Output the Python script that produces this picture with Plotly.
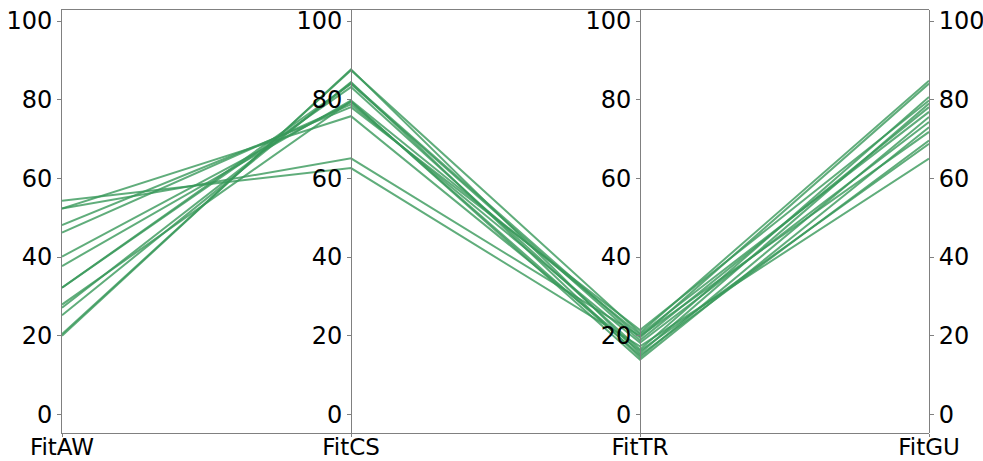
import plotly.graph_objects as go

categories = ["FitAW", "FitCS", "FitTR", "FitGU"]
fit_aw = [54.3, 52.3, 52.3, 48.1, 46.2, 40.1, 37.7, 32.2, 32.2, 27.9, 27.1, 25.2, 20.4, 20.0]
fit_cs = [62.6, 65.1, 75.8, 78.1, 78.8, 79.4, 79.8, 83.2, 84.0, 79.6, 84.2, 84.5, 87.5, 87.7]
fit_tr = [17.3, 19.9, 16.1, 21.4, 18.2, 15.0, 20.3, 16.5, 18.8, 13.9, 19.5, 14.5, 20.7, 15.5]
fit_gu = [65.0, 71.8, 68.8, 79.8, 74.3, 69.6, 76.9, 80.7, 78.1, 73.0, 84.1, 75.6, 84.8, 79.0]
y_ticks = [0, 20, 40, 60, 80, 100]

line_color = "rgba(56,152,90,0.8)"
axis_color = "#808080"
font = dict(family="DejaVu Sans", size=24, color="black")
xfont = dict(family="DejaVu Sans", size=23, color="black")
y_range = [-4.75, 102.8]

fig = go.Figure()
for a, c, t, g in zip(fit_aw, fit_cs, fit_tr, fit_gu):
    fig.add_trace(go.Scatter(
        x=categories, y=[a, c, t, g], mode="lines",
        line=dict(color=line_color, width=2), showlegend=False, hoverinfo="skip",
    ))

dom = [0.0, 1.0]
common_y = dict(range=y_range, tickvals=y_ticks, showgrid=False, zeroline=False,
                showline=True, linecolor=axis_color, linewidth=1,
                ticks="outside", ticklen=4, tickcolor=axis_color,
                tickfont=font, fixedrange=True, automargin=False)

layout_axes = {}
layout_axes["yaxis"] = dict(common_y, side="left")
n = len(categories)
for i in range(1, n):
    pos = dom[0] + (dom[1] - dom[0]) * i / (n - 1)
    layout_axes[f"yaxis{i+1}"] = dict(common_y, overlaying="y", anchor="free",
                                      position=pos,
                                      side="right" if i == n - 1 else "left")

# invisible helper traces so the overlay axes are rendered
for i in range(1, n):
    fig.add_trace(go.Scatter(x=[categories[0]], y=[None], yaxis=f"y{i+1}",
                             showlegend=False, hoverinfo="skip", mode="lines"))

fig.update_layout(
    width=983, height=461,
    margin=dict(l=62, r=54, t=10, b=28),
    paper_bgcolor="white", plot_bgcolor="white",
    font=font,
    xaxis=dict(type="category", categoryorder="array", categoryarray=categories,
               range=[0, n - 1], domain=dom, showgrid=False, zeroline=False,
               showline=True, mirror=True, linecolor=axis_color, linewidth=1,
               ticks="outside", ticklen=3, tickcolor=axis_color, tickfont=xfont,
               ticklabelstandoff=-10,
               fixedrange=True, automargin=False),
    **layout_axes,
)

fig.write_html("out.html")
